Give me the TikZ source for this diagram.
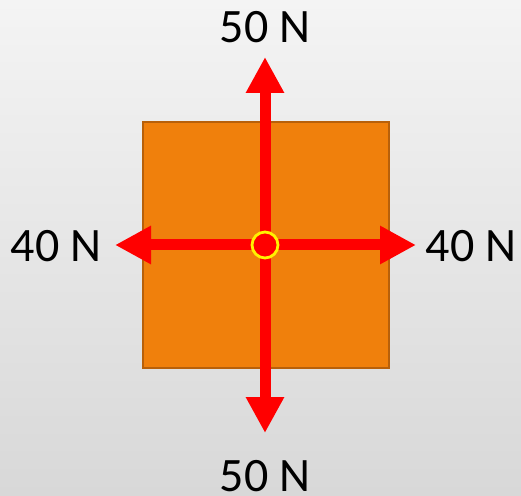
\documentclass[tikz,border=0pt]{standalone}
\usepackage{fontspec}
\setmainfont{Carlito}
\usetikzlibrary{arrows.meta}
\definecolor{boxfill}{HTML}{F0800C}
\definecolor{boxline}{HTML}{B8600A}
\definecolor{bgtop}{HTML}{F4F4F4}
\definecolor{bgbot}{HTML}{D8D8D8}
\tikzset{
  force/.style={draw=red, line width=11pt, -{Triangle[length=36pt,width=36pt]}},
  lbl/.style={font=\fontsize{48}{50}\selectfont, anchor=base, inner sep=0pt, text depth=0pt},
}
\begin{document}
\begin{tikzpicture}[x=1pt,y=1pt]
\shade[top color=bgtop, bottom color=bgbot] (0,0) rectangle (521,495);
\useasboundingbox (0,0) rectangle (521,495);
\node[draw=boxline, line width=2pt, fill=boxfill, minimum width=246pt, minimum height=246pt, inner sep=0pt] (box) at (266,250) {};
\coordinate (c) at (265,250);
\coordinate (up) at (265,438);
\coordinate (dn) at (265,62);
\coordinate (lt) at (115,250);
\coordinate (rt) at (416,250);
\draw[force] (c) -- (up);
\draw[force] (c) -- (dn);
\draw[force] (c) -- (lt);
\draw[force] (c) -- (rt);
\node[circle, draw=yellow, line width=2.8pt, fill=red, minimum size=26pt, inner sep=0pt] (pt) at (c) {};
\node[lbl] (tup) at (265,452) {50 N};
\node[lbl] (tdn) at (265,4) {50 N};
\node[lbl] (tlt) at (56,233) {40 N};
\node[lbl] (trt) at (471,233) {40 N};
\end{tikzpicture}
\end{document}
